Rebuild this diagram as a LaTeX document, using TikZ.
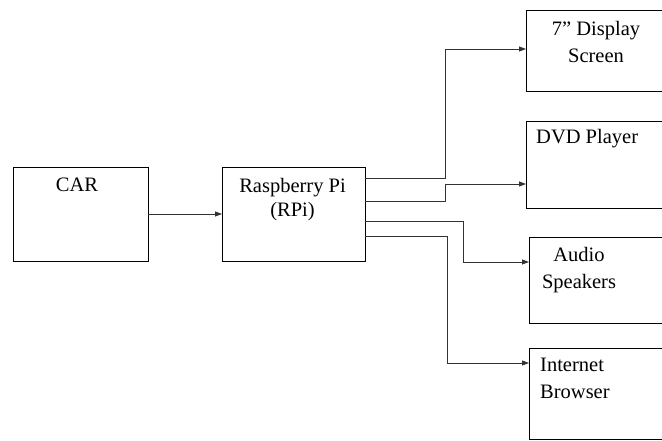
\documentclass[tikz,border=0pt]{standalone}
\usepackage{fontspec}
\setmainfont{Liberation Serif}
\usetikzlibrary{positioning, arrows.meta}

\begin{document}
\begin{tikzpicture}[
        x=1pt, y=-1pt,
        node distance=74pt,
        block/.style={draw, line width=0.9pt, inner sep=0pt, outer sep=0pt, minimum width=#1},
        block/.default=135pt,
        lbl/.style={inner sep=0pt, align=center, font=\fontsize{20.5}{27}\selectfont},
        link/.style={draw=black!80, line width=0.8pt, -{Triangle[length=7pt,width=5pt]}}
    ]

    \clip (0,0) rectangle (662,441);
    \fill[white] (0,0) rectangle (662,441);

    % boxes
    \node[block, minimum height=94pt] (car) at (80.5,214) {};
    \node[block=143pt, minimum height=94pt] (rpi) [right=of car] {};
    \node[block=164pt, minimum height=81pt] (display) at (608,50.5) {};
    \node[block=164pt, minimum height=87pt] (dvd) at (608,164.5) {};
    \node[block=161pt, minimum height=86pt] (audio) at (609.5,280) {};
    \node[block=161pt, minimum height=91pt] (browser) at (609.5,393.5) {};

    % texts
    \node[lbl, anchor=north] (car-text) at (77,178) {CAR};
    \node[lbl, anchor=north, font=\fontsize{20.5}{24}\selectfont] (rpi-text) at (292.5,178) {Raspberry Pi\\(RPi)};
    \node[lbl, anchor=north] (display-text) at (596,21) {7” Display\\Screen};
    \node[lbl, anchor=north west] (dvd-text) at (536,129) {DVD Player};
    \node[lbl, anchor=north] (audio-text) at (579,247) {Audio\\Speakers};
    \node[lbl, anchor=north west, align=left] (browser-text) at (540,358) {Internet\\Browser};

    % links
    \draw[link] (car) -- (rpi);
    \draw[link] ([yshift=36pt]rpi.east) -- ++(80,0) |- ([yshift=1.5pt]display.west);
    \draw[link] ([yshift=13pt]rpi.east) -- ++(80,0) |- ([yshift=-19.5pt]dvd.west);
    \draw[link] ([yshift=-7pt]rpi.east) -- ++(98,0) |- ([yshift=18pt]audio.west);
    \draw[link] ([yshift=-22pt]rpi.east) -- ++(82,0) |- ([yshift=30.5pt]browser.west);

\end{tikzpicture}
\end{document}
